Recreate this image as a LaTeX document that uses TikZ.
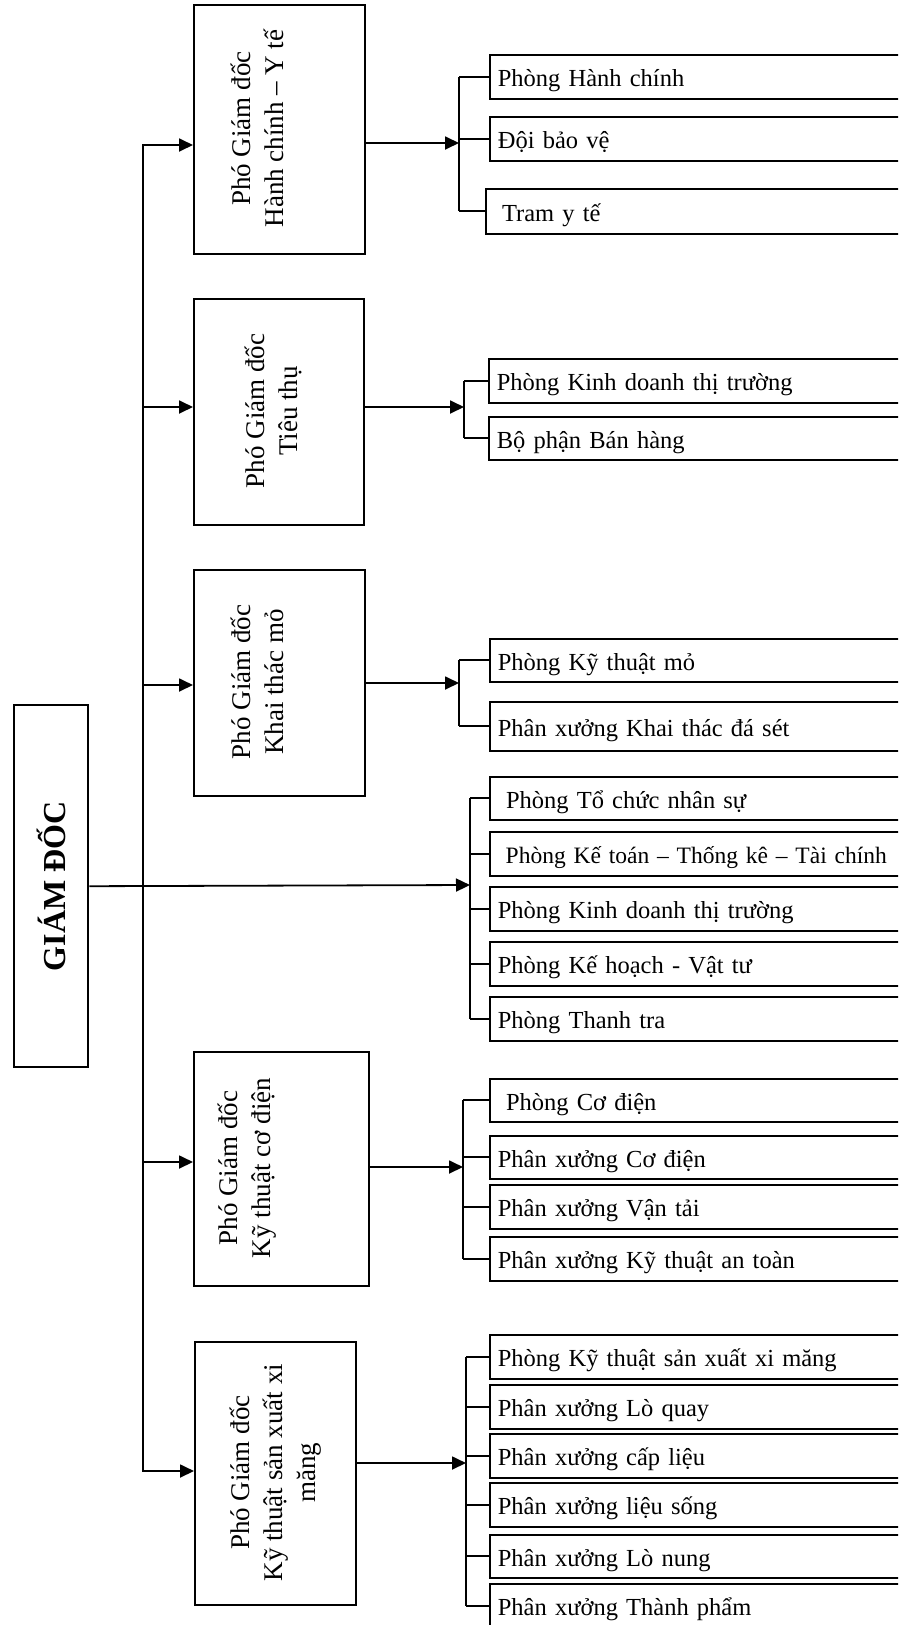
\documentclass[tikz,border=0pt]{standalone}
\usepackage{fontspec}
\setmainfont{Liberation Serif}
\usepackage{graphicx}
\usetikzlibrary{arrows.meta}

\tikzset{
  >={Triangle[length=14pt,width=13pt]},
  conn/.style={line width=1.8pt},
  arr/.style={conn, ->},
  boss/.style={draw, line width=2.4pt, anchor=north west, inner sep=0pt,
    font=\fontsize{32}{38}\selectfont\bfseries},
  deputy/.style={draw, line width=2.4pt, anchor=north west, inner sep=0pt},
  deputytext/.style={rotate=90, align=center, inner sep=0pt,
    font=\fontsize{27}{33}\selectfont},
  unit/.style={draw, line width=1.7pt, anchor=north west, text width=500pt,
    inner xsep=8pt, inner ysep=0pt, align=left, text height=22pt,
    text depth=2.5pt, font=\fontsize{24.5}{30}\selectfont}
}

\begin{document}
\begin{tikzpicture}[x=1pt,y=-1pt]
\useasboundingbox (0,0) rectangle (898,1625);
\clip (0,0) rectangle (898,1625);

% giam doc
\node[boss, minimum width=74pt, minimum height=362pt] (gd) at (13,704) {\rotatebox{90}{GIÁM ĐỐC}};

% pho giam doc
\node[deputy, minimum width=171pt, minimum height=249pt] (pgdHC) at (193,4) {};
\node[deputytext] (pgdHCt) at (257,128.5) {Phó Giám đốc\\Hành chính – Y tế};
\node[deputy, minimum width=170pt, minimum height=226pt] (pgdTT) at (193,298) {};
\node[deputytext] (pgdTTt) at (273,411) {Phó Giám đốc\\Tiêu thụ};
\node[deputy, minimum width=171pt, minimum height=226pt] (pgdKT) at (193,569) {};
\node[deputytext] (pgdKTt) at (257,682) {Phó Giám đốc\\Khai thác mỏ};
\node[deputy, minimum width=175pt, minimum height=234pt] (pgdCD) at (193,1051) {};
\node[deputytext] (pgdCDt) at (247,1168) {Phó Giám đốc\\Kỹ thuật cơ điện};
\node[deputy, minimum width=161pt, minimum height=263pt] (pgdXM) at (194,1341) {};
\node[deputytext] (pgdXMt) at (276,1472.5) {Phó Giám đốc\\Kỹ thuật sản xuất xi\\măng};

% cac phong ban
\node[unit, minimum height=44pt] (hc1) at (489,54) {Phòng Hành chính};
\node[unit, minimum height=44pt] (hc2) at (489,116) {Đội bảo vệ};
\node[unit, minimum height=45pt] (hc3) at (485,188) {\ Tram y tế};

\node[unit, minimum height=44pt] (tt1) at (488,358) {Phòng Kinh doanh thị trường};
\node[unit, minimum height=43pt] (tt2) at (488,416) {Bộ phận Bán hàng};

\node[unit, minimum height=43pt] (kt1) at (489,638) {Phòng Kỹ thuật mỏ};
\node[unit, minimum height=49pt] (kt2) at (489,701) {Phân xưởng Khai thác đá sét};

\node[unit, minimum height=43pt] (m1) at (489,776) {\ Phòng Tổ chức nhân sự};
\node[unit, minimum height=44pt, font=\fontsize{23.5}{30}\selectfont] (m2) at (489,831) {\ Phòng Kế toán – Thống kê – Tài chính};
\node[unit, minimum height=44pt] (m3) at (489,886) {Phòng Kinh doanh thị trường};
\node[unit, minimum height=44pt] (m4) at (489,941) {Phòng Kế hoạch - Vật tư};
\node[unit, minimum height=44pt] (m5) at (489,996) {Phòng Thanh tra};

\node[unit, minimum height=43pt] (cd1) at (489,1078) {\ Phòng Cơ điện};
\node[unit, minimum height=43pt] (cd2) at (489,1135) {Phân xưởng Cơ điện};
\node[unit, minimum height=44pt] (cd3) at (489,1184) {Phân xưởng Vận tải};
\node[unit, minimum height=44pt] (cd4) at (489,1236) {Phân xưởng Kỹ thuật an toàn};

\node[unit, minimum height=44pt] (xm1) at (489,1334) {Phòng Kỹ thuật sản xuất xi măng};
\node[unit, minimum height=44pt] (xm2) at (489,1384) {Phân xưởng Lò quay};
\node[unit, minimum height=44pt] (xm3) at (489,1433) {Phân xưởng cấp liệu};
\node[unit, minimum height=44pt] (xm4) at (489,1482) {Phân xưởng liệu sống};
\node[unit, minimum height=43pt] (xm5) at (489,1534) {Phân xưởng Lò nung};
\node[unit, minimum height=44pt] (xm6) at (489,1583) {Phân xưởng Thành phẩm};

% truc doc
\coordinate (tA) at (143,145);
\coordinate (tB) at (143,407);
\coordinate (tC) at (143,685);
\coordinate (tD) at (143,1162);
\coordinate (tE) at (143,1471);
\draw[conn, <->] (tA -| pgdHC.west) -- (tA) -- (tE) -- (tE -| pgdXM.west);
\draw[arr] (tB) -- (tB -| pgdTT.west);
\draw[arr] (tC) -- (tC -| pgdKT.west);
\draw[arr] (tD) -- (tD -| pgdCD.west);

% mui ten sang cac phong
\coordinate (bHC) at (459,143);
\coordinate (bTT) at (464,407);
\coordinate (bKT) at (459,683);
\coordinate (bM) at (470,885);
\coordinate (bCD) at (463,1167);
\coordinate (bXM) at (466,1463);
\draw[arr] (bHC -| pgdHC.east) -- (bHC);
\draw[arr] (bTT -| pgdTT.east) -- (bTT);
\draw[arr] (bKT -| pgdKT.east) -- (bKT);
\draw[arr] (gd.east) -- (bM);
\draw[arr] (bCD -| pgdCD.east) -- (bCD);
\draw[arr] (bXM -| pgdXM.east) -- (bXM);

% thanh ngang
\draw[conn] (bHC |- hc1.west) -- (bHC |- hc3.west);
\draw[conn] (bTT |- tt1.west) -- (bTT |- tt2.west);
\draw[conn] (bKT |- kt1.west) -- (bKT |- kt2.west);
\draw[conn] (bM |- m1.west) -- (bM |- m5.west);
\draw[conn] (bCD |- cd1.west) -- (bCD |- cd4.west);
\draw[conn] (bXM |- xm1.west) -- (bXM |- xm6.west);
\foreach \c in {hc1,hc2,hc3} \draw[conn] (bHC |- \c.west) -- (\c.west);
\foreach \c in {tt1,tt2} \draw[conn] (bTT |- \c.west) -- (\c.west);
\foreach \c in {kt1,kt2} \draw[conn] (bKT |- \c.west) -- (\c.west);
\foreach \c in {m1,m2,m3,m4,m5} \draw[conn] (bM |- \c.west) -- (\c.west);
\foreach \c in {cd1,cd2,cd3,cd4} \draw[conn] (bCD |- \c.west) -- (\c.west);
\foreach \c in {xm1,xm2,xm3,xm4,xm5,xm6} \draw[conn] (bXM |- \c.west) -- (\c.west);
\end{tikzpicture}
\end{document}
